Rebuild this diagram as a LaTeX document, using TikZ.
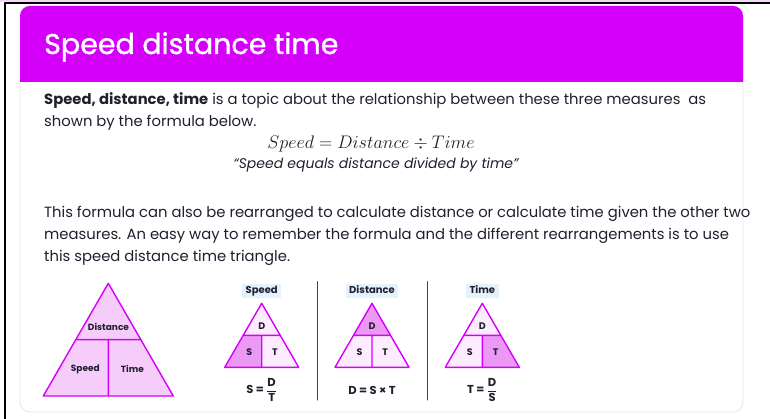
\RequirePackage{fix-cm}
\documentclass[tikz,border=0pt]{standalone}
\usepackage{amsmath}
\usepackage{fontspec}
\setmainfont{Poppins}
\newfontfamily\headfont[FakeBold=1.2]{Poppins}
\usetikzlibrary{positioning}
\definecolor{headpink}{HTML}{D500F9}
\definecolor{edgepink}{HTML}{F4D6F6}
\definecolor{trifill}{HTML}{F6CDFA}
\definecolor{trilite}{HTML}{FDEBFF}
\definecolor{tridark}{HTML}{EB99F4}
\definecolor{capblue}{HTML}{E3F2FD}
\definecolor{cardgray}{HTML}{E6E6E6}
\definecolor{ink}{HTML}{1F1F2E}
\tikzset{
    every picture/.style={line cap=round,line join=round},
    textline/.style={anchor=base west,inner sep=0pt,text=ink},
    tristroke/.style={draw=headpink,line width=1.4pt},
    trilabel/.style={inner sep=0pt,text depth=0pt,font=\fontsize{9.5}{11}\selectfont\bfseries,text=ink},
    capbox/.style={fill=capblue,inner xsep=3.5pt,inner ysep=2.5pt,text height=7.5pt,text depth=1.5pt,
      font=\fontsize{10}{11}\selectfont\bfseries,text=ink},
    eqnode/.style={inner sep=0pt,font=\fontsize{11.5}{13}\selectfont\bfseries,text=ink},
    sepline/.style={draw=ink!85,line width=1pt}
}
\begin{document}
\begin{tikzpicture}[x=1pt,y=-1pt,font=\fontsize{14.8}{22}\selectfont]
  \useasboundingbox (0,0) rectangle (770,419);
  % page edge
  \fill[edgepink] (0,0) rectangle (770,2.5);
  \draw[black,line width=2pt,line cap=butt] (4.5,419) -- (4.5,3.5) -- (770,3.5);
  % card and header
  \draw[cardgray,line width=0.8pt,rounded corners=10pt] (20,6) rectangle (743,412);
  \fill[headpink,rounded corners=10pt] (20,82) -- (20,6) -- (743,6) -- (743,82);
  \node[textline,text=white,font=\fontsize{28.5}{30}\headfont] (title) at (44,54) {Speed distance time};
  % text
  \node[textline] (intro1) at (44,105) {\textbf{Speed, distance, time} is a topic about the relationship between these three measures\ \ as};
  \node[textline] (intro2) at (44,127) {shown by the formula below.};
  \node[anchor=base,inner sep=0pt,text=ink,font=\fontsize{18.2}{20}\selectfont] (formula) at (371,148.5) {$Speed = Distance \div Time$};
  \node[anchor=base,inner sep=0pt,text=ink,font=\fontsize{14}{16}\selectfont\itshape] (quote) at (376,169) {“Speed equals distance divided by time”};
  \node[textline] (para1) at (44,218) {This formula can also be rearranged to calculate distance or calculate time given the other two};
  \node[textline] (para2) at (44,240) {measures. An easy way to remember the formula and the different rearrangements is to use};
  \node[textline] (para3) at (44,262) {this speed distance time triangle.};
  % big triangle
  \coordinate (bigtop) at (108.3,283.3);
  \coordinate (bigbl) at (43.3,396);
  \coordinate (bigbr) at (173.3,396);
  \coordinate (bigml) at (75.8,339.6);
  \coordinate (bigmr) at (140.8,339.6);
  \coordinate (bigmc) at (108.3,339.6);
  \coordinate (bigbm) at (108.3,396);
  \fill[trifill] (bigtop) -- (bigbl) -- (bigbr) -- cycle;
  \draw[tristroke] (bigtop) -- (bigbl) -- (bigbr) -- cycle (bigml) -- (bigmr) (bigmc) -- (bigbm);
  \node[trilabel,font=\fontsize{9}{11}\selectfont\bfseries] (bigd) at (108.5,326.5) {Distance};
  \node[trilabel,font=\fontsize{9}{11}\selectfont\bfseries] (bigs) at (85.3,368.5) {Speed};
  \node[trilabel,font=\fontsize{9}{11}\selectfont\bfseries] (bigt) at (132.3,368.5) {Time};
  % small triangles
  \foreach \cx/\lbl/\ftop/\fleft/\fright/\eqn [count=\i] in {
      261.7/Speed/trilite/tridark/trilite/{S = $\dfrac{\text{D}}{\text{T}}$},
      372/Distance/tridark/trilite/trilite/{D = S × T},
      482.3/Time/trilite/trilite/tridark/{T = $\dfrac{\text{D}}{\text{S}}$}}{
    \coordinate (t\i-top) at (\cx,303.3);
    \coordinate (t\i-bl) at ({\cx-37},367.3);
    \coordinate (t\i-br) at ({\cx+37},367.3);
    \coordinate (t\i-ml) at ({\cx-18.5},335.3);
    \coordinate (t\i-mr) at ({\cx+18.5},335.3);
    \coordinate (t\i-mc) at (\cx,335.3);
    \coordinate (t\i-bm) at (\cx,367.3);
    \fill[\ftop] (t\i-top) -- (t\i-ml) -- (t\i-mr) -- cycle;
    \fill[\fleft] (t\i-ml) -- (t\i-bl) -- (t\i-bm) -- (t\i-mc) -- cycle;
    \fill[\fright] (t\i-mc) -- (t\i-bm) -- (t\i-br) -- (t\i-mr) -- cycle;
    \draw[tristroke] (t\i-top) -- (t\i-bl) -- (t\i-br) -- cycle (t\i-ml) -- (t\i-mr) (t\i-mc) -- (t\i-bm);
    \node[capbox] (cap\i) at (\cx,291) {\lbl};
    \node[trilabel] (d\i) at (\cx,325.7) {D};
    \node[trilabel] (s\i) at ({\cx-12.4},351.7) {S};
    \node[trilabel] (t\i) at ({\cx+13.3},351.7) {T};
    \node[eqnode] (eq\i) at (\cx,390) {\eqn};
  }
  % separators
  \draw[sepline] (317.3,281.7) -- (317.3,400);
  \draw[sepline] (427.3,281.7) -- (427.3,400);
\end{tikzpicture}
\end{document}
